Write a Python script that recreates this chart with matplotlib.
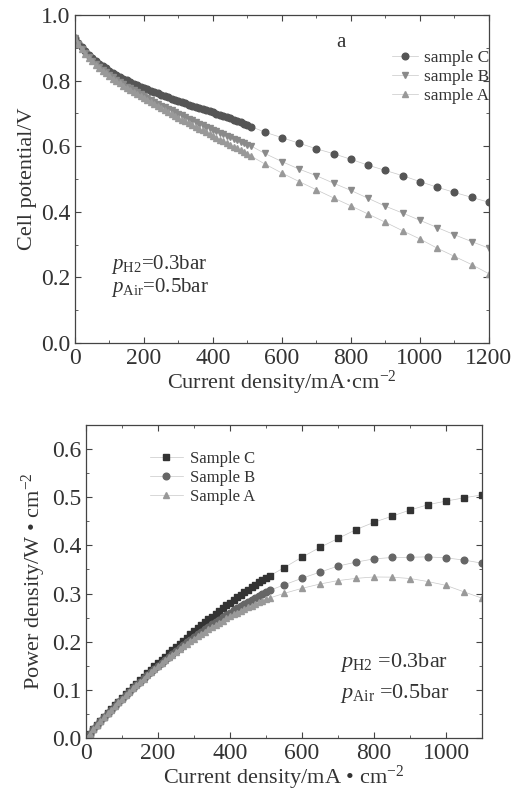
import numpy as np
import matplotlib
matplotlib.use("Agg")
import matplotlib.pyplot as plt
from matplotlib.ticker import MultipleLocator

plt.rcParams['font.family'] = ['Liberation Serif', 'DejaVu Serif']
plt.rcParams['mathtext.fontset'] = 'custom'
plt.rcParams['mathtext.rm'] = 'Liberation Serif'
plt.rcParams['mathtext.it'] = 'Liberation Serif:italic'

# dense polarisation scan, mA/cm2
current_dense = list(range(0, 520, 10))

volt_C_dense = [0.930, 0.915, 0.902, 0.890, 0.879, 0.869, 0.860, 0.852, 0.844, 0.837,
                0.830, 0.824, 0.818, 0.812, 0.806, 0.801, 0.796, 0.791, 0.786, 0.782,
                0.778, 0.774, 0.769, 0.765, 0.761, 0.757, 0.753, 0.749, 0.745, 0.742,
                0.738, 0.734, 0.731, 0.727, 0.724, 0.720, 0.717, 0.713, 0.710, 0.706,
                0.703, 0.699, 0.696, 0.692, 0.688, 0.685, 0.681, 0.677, 0.673, 0.669,
                0.665, 0.660]
volt_B_dense = [0.930, 0.912, 0.897, 0.884, 0.872, 0.861, 0.851, 0.842, 0.833, 0.825,
                0.817, 0.810, 0.802, 0.795, 0.789, 0.782, 0.776, 0.770, 0.764, 0.758,
                0.752, 0.746, 0.741, 0.735, 0.730, 0.724, 0.719, 0.714, 0.709, 0.704,
                0.699, 0.694, 0.689, 0.684, 0.679, 0.674, 0.669, 0.665, 0.660, 0.655,
                0.650, 0.646, 0.641, 0.637, 0.632, 0.628, 0.623, 0.619, 0.614, 0.610,
                0.605, 0.601]
volt_A_dense = [0.930, 0.911, 0.895, 0.882, 0.870, 0.859, 0.849, 0.839, 0.830, 0.822,
                0.814, 0.806, 0.799, 0.792, 0.785, 0.778, 0.771, 0.765, 0.758, 0.752,
                0.746, 0.740, 0.734, 0.728, 0.722, 0.716, 0.710, 0.704, 0.698, 0.693,
                0.687, 0.681, 0.676, 0.670, 0.664, 0.659, 0.653, 0.648, 0.642, 0.637,
                0.631, 0.626, 0.620, 0.615, 0.609, 0.604, 0.598, 0.593, 0.587, 0.582,
                0.576, 0.570]

# sparse points
current_sparse = [550, 600, 650, 700, 750, 800, 850, 900, 950, 1000, 1050, 1100, 1150, 1200]
volt_C_sparse = [0.643, 0.626, 0.609, 0.592, 0.577, 0.560, 0.542, 0.526, 0.510, 0.492,
                 0.475, 0.459, 0.444, 0.429]
volt_B_sparse = [0.578, 0.553, 0.530, 0.510, 0.487, 0.465, 0.441, 0.417, 0.396, 0.374,
                 0.352, 0.330, 0.309, 0.289]
volt_A_sparse = [0.546, 0.518, 0.492, 0.467, 0.442, 0.418, 0.393, 0.368, 0.342, 0.317,
                 0.289, 0.264, 0.239, 0.211]

I = np.array(current_dense + current_sparse, dtype=float)
V_C = np.array(volt_C_dense + volt_C_sparse)
V_B = np.array(volt_B_dense + volt_B_sparse)
V_A = np.array(volt_A_dense + volt_A_sparse)

# power density W/cm2 = mA/cm2 * V / 1000
P_C = I * V_C / 1000
P_B = I * V_B / 1000
P_A = I * V_A / 1000

txt = '#333333'
line_col = '#c8c8c8'


def style_axes(ax):
    for s in ax.spines.values():
        s.set_color('#444444')
        s.set_linewidth(0.9)
    ax.tick_params(which='both', direction='in', top=True, right=True,
                   colors='#444444', labelcolor=txt, labelsize=17)
    ax.tick_params(which='major', length=4)
    ax.tick_params(which='minor', length=2)


fig = plt.figure(figsize=(5.16, 7.95), dpi=100)

# ---- top: polarisation curves
ax1 = fig.add_axes([0.1453, 0.5686, 0.8023, 0.4125])
ax1.plot(I, V_C, color=line_col, lw=0.5, marker='o', ms=4.8,
         mfc='#555555', mec='#555555', label='sample C')
ax1.plot(I, V_B, color=line_col, lw=0.5, marker='v', ms=5.0,
         mfc='#8a8a8a', mec='#8a8a8a', label='sample B')
ax1.plot(I, V_A, color=line_col, lw=0.5, marker='^', ms=5.0,
         mfc='#999999', mec='#999999', label='sample A')
ax1.set_xlim(0, 1200)
ax1.set_ylim(0, 1.0)
ax1.xaxis.set_major_locator(MultipleLocator(200))
ax1.xaxis.set_minor_locator(MultipleLocator(100))
ax1.yaxis.set_major_locator(MultipleLocator(0.2))
ax1.yaxis.set_minor_locator(MultipleLocator(0.1))
ax1.set_yticks([0.0, 0.2, 0.4, 0.6, 0.8, 1.0])
ax1.set_yticklabels(['0.0', '0.2', '0.4', '0.6', '0.8', '1.0'])
style_axes(ax1)
ax1.set_xlabel('Current density/mA·cm$^{-2}$', fontsize=16, color=txt, labelpad=0)
ax1.set_ylabel('Cell potential/V', fontsize=16, color=txt, labelpad=3)
ax1.text(770, 0.915, 'a', fontsize=15, color=txt, ha='center', va='center')
ax1.text(105, 0.225, r'$p_{\rm H2}$=0.3bar', fontsize=15, color=txt)
ax1.text(105, 0.155, r'$p_{\rm Air}$=0.5bar', fontsize=15, color=txt)
ax1.legend(loc='upper left', bbox_to_anchor=(0.745, 0.92), frameon=False,
           fontsize=12.5, handlelength=1.5, handletextpad=0.35, labelspacing=0.15,
           borderpad=0, labelcolor=txt)

# ---- bottom: power density
ax2 = fig.add_axes([0.1667, 0.0717, 0.7674, 0.3937])
ax2.plot(I, P_C, color=line_col, lw=0.5, marker='s', ms=4.6,
         mfc='#333333', mec='#333333', label='Sample C')
ax2.plot(I, P_B, color=line_col, lw=0.5, marker='o', ms=4.8,
         mfc='#666666', mec='#666666', label='Sample B')
ax2.plot(I, P_A, color=line_col, lw=0.5, marker='^', ms=4.8,
         mfc='#999999', mec='#999999', label='Sample A')
ax2.set_xlim(0, 1100)
ax2.set_ylim(0, 0.65)
ax2.xaxis.set_major_locator(MultipleLocator(200))
ax2.xaxis.set_minor_locator(MultipleLocator(100))
ax2.yaxis.set_major_locator(MultipleLocator(0.1))
ax2.yaxis.set_minor_locator(MultipleLocator(0.05))
ax2.set_yticks([0.0, 0.1, 0.2, 0.3, 0.4, 0.5, 0.6])
ax2.set_yticklabels(['0.0', '0.1', '0.2', '0.3', '0.4', '0.5', '0.6'])
style_axes(ax2)
ax2.set_xlabel('Current density/mA • cm$^{-2}$', fontsize=16, color=txt, labelpad=0)
ax2.set_ylabel('Power density/W • cm$^{-2}$', fontsize=16, color=txt, labelpad=3)
ax2.text(705, 0.148, r'$p_{\rm H2}$ =0.3bar', fontsize=16, color=txt)
ax2.text(705, 0.083, r'$p_{\rm Air}$ =0.5bar', fontsize=16, color=txt)
ax2.legend(loc='upper left', bbox_to_anchor=(0.14, 0.945), frameon=False,
           fontsize=12, handlelength=2.0, handletextpad=0.4, labelspacing=0.2,
           borderpad=0, labelcolor=txt)

fig.savefig('out.png', dpi=100)
